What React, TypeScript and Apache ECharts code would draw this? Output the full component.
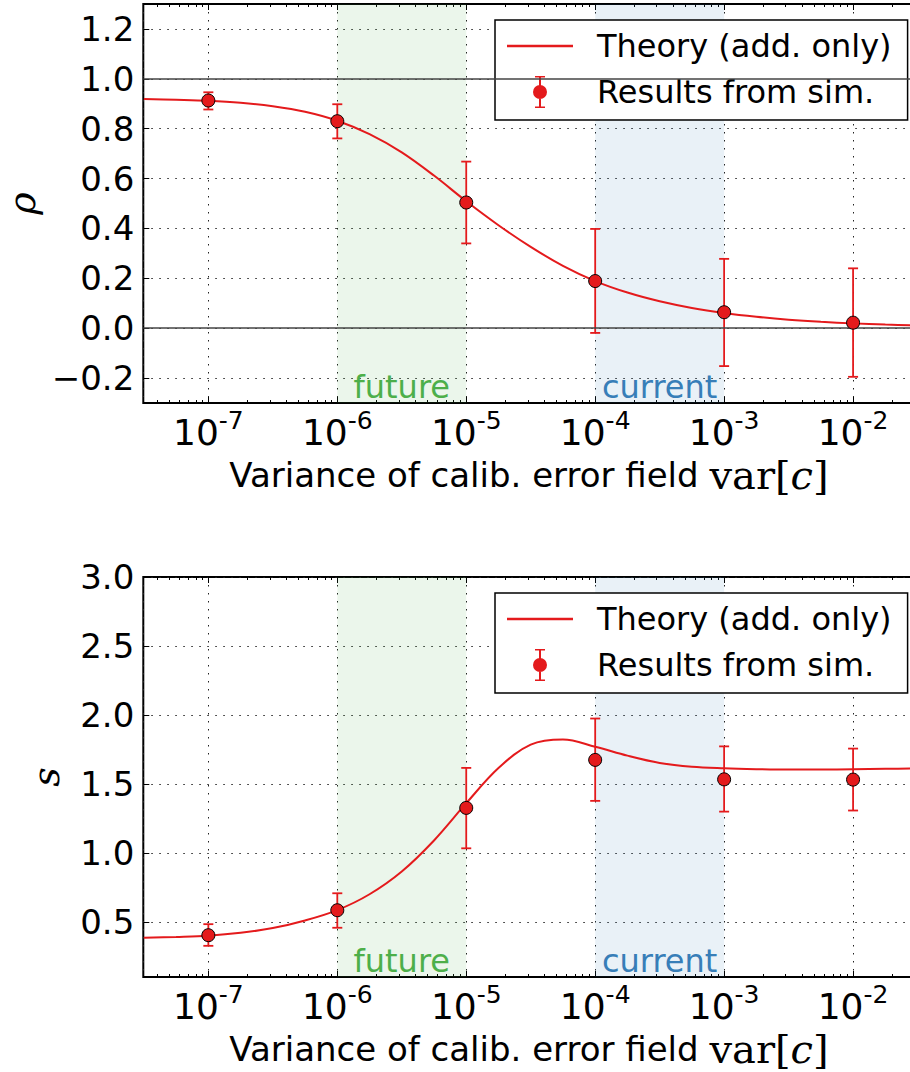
import React, { useEffect, useRef } from 'react';
import * as echarts from 'echarts';

// ---------------- data ----------------
const simVar = [1e-7, 1e-6, 1e-5, 1e-4, 1e-3, 1e-2];
const rhoSim = [0.913, 0.83, 0.504, 0.189, 0.064, 0.022];
const rhoLo = [0.877, 0.761, 0.34, -0.019, -0.152, -0.195];
const rhoHi = [0.946, 0.898, 0.668, 0.398, 0.278, 0.24];
const sSim = [0.403, 0.584, 1.326, 1.674, 1.533, 1.531];
const sLo = [0.326, 0.457, 1.033, 1.377, 1.299, 1.307];
const sHi = [0.483, 0.707, 1.616, 1.974, 1.772, 1.756];

// theory curve, sampled every quarter decade (exponent of the variance)
const theoryExp = [
  -7.5, -7.25, -7.0, -6.75, -6.5, -6.25, -6.0, -5.75, -5.5, -5.25, -5.0, -4.75, -4.5,
  -4.25, -4.0, -3.75, -3.5, -3.25, -3.0, -2.75, -2.5, -2.25, -2.0, -1.75, -1.5,
];
const rhoTheory = [
  0.919, 0.916, 0.912, 0.904, 0.89, 0.868, 0.832, 0.778, 0.705, 0.612, 0.509, 0.413, 0.326,
  0.25, 0.189, 0.143, 0.108, 0.0812, 0.061, 0.0458, 0.0343, 0.0257, 0.0193, 0.0145, 0.0109,
];
const sTheory = [
  0.384, 0.39, 0.399, 0.42, 0.455, 0.51, 0.585, 0.7, 0.865, 1.09, 1.36, 1.615, 1.785,
  1.822, 1.77, 1.705, 1.652, 1.624, 1.613, 1.607, 1.604, 1.604, 1.606, 1.609, 1.612,
];

const rhoTicks = [-0.2, 0.0, 0.2, 0.4, 0.6, 0.8, 1.0, 1.2];
const sTicks = [0.5, 1.0, 1.5, 2.0, 2.5, 3.0];
const rhoRefLines = [0, 1];
const futureSpan = [1e-6, 1e-5];
const currentSpan = [1e-4, 1e-3];
const spanLabels = ['future', 'current'];
const legendNames = ['Theory (add. only)', 'Results from sim.'];
const xTitle = 'Variance of calib. error field ';

const X_MIN = 3.13e-8;
const X_MAX = 3.0e-2;

// ---------------- styles ----------------
const RED = '#e41a1c';
const GREEN_TXT = '#4daf4a';
const BLUE_TXT = '#377eb8';
const GREEN_BG = 'rgba(77,175,74,0.11)';
const BLUE_BG = 'rgba(55,126,184,0.11)';
const GRID_LINE = { color: '#222', type: [1.5, 6.5], width: 1 };

const LINE_ICON = 'path://M0,15L66,15L66,17.5L0,17.5Z';
const ERR_ICON =
  'path://M28,0L38,0L38,1.5L34,1.5L34,30.5L38,30.5L38,32L28,32L28,30.5L32,30.5L32,1.5L28,1.5Z' +
  'M26,16A7,7 0 1 1 40,16A7,7 0 1 1 26,16Z';

const minorLogs: number[] = [];
for (let n = -8; n <= -2; n++) {
  for (let k = 2; k <= 9; k++) {
    const v = n + Math.log10(k);
    if (v > Math.log10(X_MIN) && v < Math.log10(X_MAX)) minorLogs.push(v);
  }
}

const GRIDS = [
  { left: 143.3, top: 4, width: 771.3, height: 399 },
  { left: 143.3, top: 577, width: 771.3, height: 400 },
];

function xAxesFor(gi: number) {
  const common = { gridIndex: gi, axisLine: { show: false, onZero: false } };
  const titleRich = {
    a: { fontSize: 34, fontFamily: 'DejaVu Sans', color: '#000' },
    m: { fontSize: 40, fontFamily: 'DejaVu Serif', color: '#000' },
    i: { fontSize: 40, fontFamily: 'DejaVu Serif', fontStyle: 'italic', color: '#000' },
  };
  return [
    {
      ...common,
      type: 'log',
      logBase: 10,
      min: X_MIN,
      max: X_MAX,
      position: 'bottom',
      name: `{a|${xTitle}}{m|var[}{i|c}{m|]}`,
      nameLocation: 'middle',
      nameGap: 52,
      nameTextStyle: { rich: titleRich },
      axisTick: { show: true, inside: true, length: 6, lineStyle: { color: '#000', width: 1 } },
      axisLabel: {
        show: true,
        margin: 5,
        formatter: (v: number) => {
          const l = Math.log10(v);
          const e = Math.round(l);
          if (Math.abs(l - e) > 1e-6) return '';
          return `{b|10}{s|${e}}`;
        },
        rich: {
          b: { fontSize: 36, fontFamily: 'DejaVu Sans', color: '#000', verticalAlign: 'bottom', padding: [6, 0, 0, 0] },
          s: { fontSize: 25, fontFamily: 'DejaVu Sans', color: '#000', verticalAlign: 'top' },
        },
      },
      splitLine: { show: true, lineStyle: GRID_LINE },
    },
    {
      ...common,
      type: 'log',
      logBase: 10,
      min: X_MIN,
      max: X_MAX,
      position: 'top',
      axisTick: { show: true, inside: true, length: 6, lineStyle: { color: '#000', width: 1 } },
      axisLabel: { show: false },
      splitLine: { show: false },
    },
    {
      ...common,
      type: 'value',
      min: Math.log10(X_MIN),
      max: Math.log10(X_MAX),
      position: 'bottom',
      axisTick: { show: true, inside: true, length: 3, customValues: minorLogs, lineStyle: { color: '#000', width: 1 } },
      axisLabel: { show: false },
      splitLine: { show: false },
    },
    {
      ...common,
      type: 'value',
      min: Math.log10(X_MIN),
      max: Math.log10(X_MAX),
      position: 'top',
      axisTick: { show: true, inside: true, length: 3, customValues: minorLogs, lineStyle: { color: '#000', width: 1 } },
      axisLabel: { show: false },
      splitLine: { show: false },
    },
  ];
}

function yAxisFor(
  gi: number,
  min: number,
  max: number,
  ticks: number[],
  name: string,
  nameGap: number,
  nameSize: number,
) {
  return {
    gridIndex: gi,
    type: 'value',
    min,
    max,
    position: 'left',
    name,
    nameLocation: 'middle',
    nameGap,
    nameRotate: 90,
    nameTextStyle: { fontFamily: 'DejaVu Serif', fontStyle: 'italic', fontSize: nameSize, color: '#000' },
    axisLine: { show: false, onZero: false },
    axisTick: { show: true, inside: true, length: 6, customValues: ticks, lineStyle: { color: '#000', width: 1 } },
    axisLabel: {
      show: true,
      customValues: ticks,
      margin: 9,
      fontSize: 34,
      color: '#000',
      fontFamily: 'DejaVu Sans',
      formatter: (v: number) => (v < 0 ? '\u2212' : '') + Math.abs(v).toFixed(1),
    },
    splitLine: { show: true, lineStyle: GRID_LINE },
  };
}

function errRender(params: any, api: any) {
  const x = api.value(0);
  const lo = api.value(1);
  const hi = api.value(2);
  const t = api.coord([x, hi]);
  const b = api.coord([x, lo]);
  const cap = 5;
  const style = { stroke: RED, lineWidth: 1.8 };
  return {
    type: 'group',
    children: [
      { type: 'line', shape: { x1: t[0], y1: t[1], x2: b[0], y2: b[1] }, style },
      { type: 'line', shape: { x1: t[0] - cap, y1: t[1], x2: t[0] + cap, y2: t[1] }, style },
      { type: 'line', shape: { x1: b[0] - cap, y1: b[1], x2: b[0] + cap, y2: b[1] }, style },
    ],
  };
}

function markAreaCfg() {
  const mk = (span: number[], label: string, bg: string, fg: string) => [
    {
      name: label,
      xAxis: span[0],
      itemStyle: { color: bg },
      label: { show: true, position: 'insideBottom', distance: 0, color: fg, fontSize: 32, fontFamily: 'DejaVu Sans' },
    },
    { xAxis: span[1] },
  ];
  return {
    silent: true,
    data: [
      mk(futureSpan, spanLabels[0], GREEN_BG, GREEN_TXT),
      mk(currentSpan, spanLabels[1], BLUE_BG, BLUE_TXT),
    ],
  };
}

function seriesFor(gi: number, theory: number[], sim: number[], lo: number[], hi: number[], refLines: number[] | null) {
  const xi = gi * 4;
  const line: any = {
    name: legendNames[0],
    type: 'line',
    xAxisIndex: xi,
    yAxisIndex: gi,
    data: theoryExp.map((e, i) => [Math.pow(10, e), theory[i]]),
    showSymbol: false,
    smooth: 0.35,
    lineStyle: { color: RED, width: 2 },
    itemStyle: { color: RED },
    z: 2,
    markArea: markAreaCfg(),
  };
  if (refLines) {
    line.markLine = {
      silent: true,
      symbol: ['none', 'none'],
      label: { show: false },
      lineStyle: { color: '#444', width: 1.5, type: 'solid' },
      data: refLines.map((v) => ({ yAxis: v })),
    };
  }
  return [
    line,
    {
      name: legendNames[1],
      type: 'scatter',
      xAxisIndex: xi,
      yAxisIndex: gi,
      data: simVar.map((v, i) => [v, sim[i]]),
      symbolSize: 13,
      itemStyle: { color: RED, borderColor: '#000', borderWidth: 1, opacity: 1 },
      z: 5,
    },
    {
      name: 'errorbars' + gi,
      type: 'custom',
      xAxisIndex: xi,
      yAxisIndex: gi,
      renderItem: errRender,
      encode: { x: 0, y: [1, 2] },
      data: simVar.map((v, i) => [v, lo[i], hi[i]]),
      z: 4,
    },
  ];
}

function legendFor(top: number) {
  return {
    left: 495,
    top,
    orient: 'vertical',
    padding: [10, 16, 12, 12],
    itemGap: 14,
    itemWidth: 66,
    itemHeight: 32,
    borderColor: '#000',
    borderWidth: 1.5,
    borderRadius: 0,
    backgroundColor: '#fff',
    selectedMode: false,
    textStyle: { fontSize: 32, color: '#000', fontFamily: 'DejaVu Sans', padding: [0, 0, 0, 19] },
    data: [
      { name: legendNames[0], icon: LINE_ICON },
      { name: legendNames[1], icon: ERR_ICON, itemStyle: { borderWidth: 0, color: RED } },
    ],
  };
}

export default function App() {
  const ref = useRef<HTMLDivElement>(null);
  useEffect(() => {
    if (!ref.current) return;
    const chart = echarts.init(ref.current, undefined, { renderer: 'svg' });
    const option: any = {
      animation: false,
      backgroundColor: '#fff',
      textStyle: { fontFamily: 'DejaVu Sans' },
      grid: GRIDS.map((g) => ({
        ...g,
        show: true,
        borderColor: '#000',
        borderWidth: 2,
        backgroundColor: 'transparent',
        containLabel: false,
        outerBoundsMode: 'none',
      })),
      xAxis: [...xAxesFor(0), ...xAxesFor(1)],
      yAxis: [
        yAxisFor(0, -0.3, 1.3, rhoTicks, 'ρ', 94, 38),
        yAxisFor(1, 0.1, 3.0, sTicks, 's', 78, 38),
      ],
      legend: [legendFor(20), legendFor(593)],
      series: [
        ...seriesFor(0, rhoTheory, rhoSim, rhoLo, rhoHi, rhoRefLines),
        ...seriesFor(1, sTheory, sSim, sLo, sHi, null),
      ],
    };
    chart.setOption(option);
    return () => chart.dispose();
  }, []);
  return <div ref={ref} style={{ position: 'absolute', left: 0, top: 0, width: 910, height: 1072 }} />;
}
